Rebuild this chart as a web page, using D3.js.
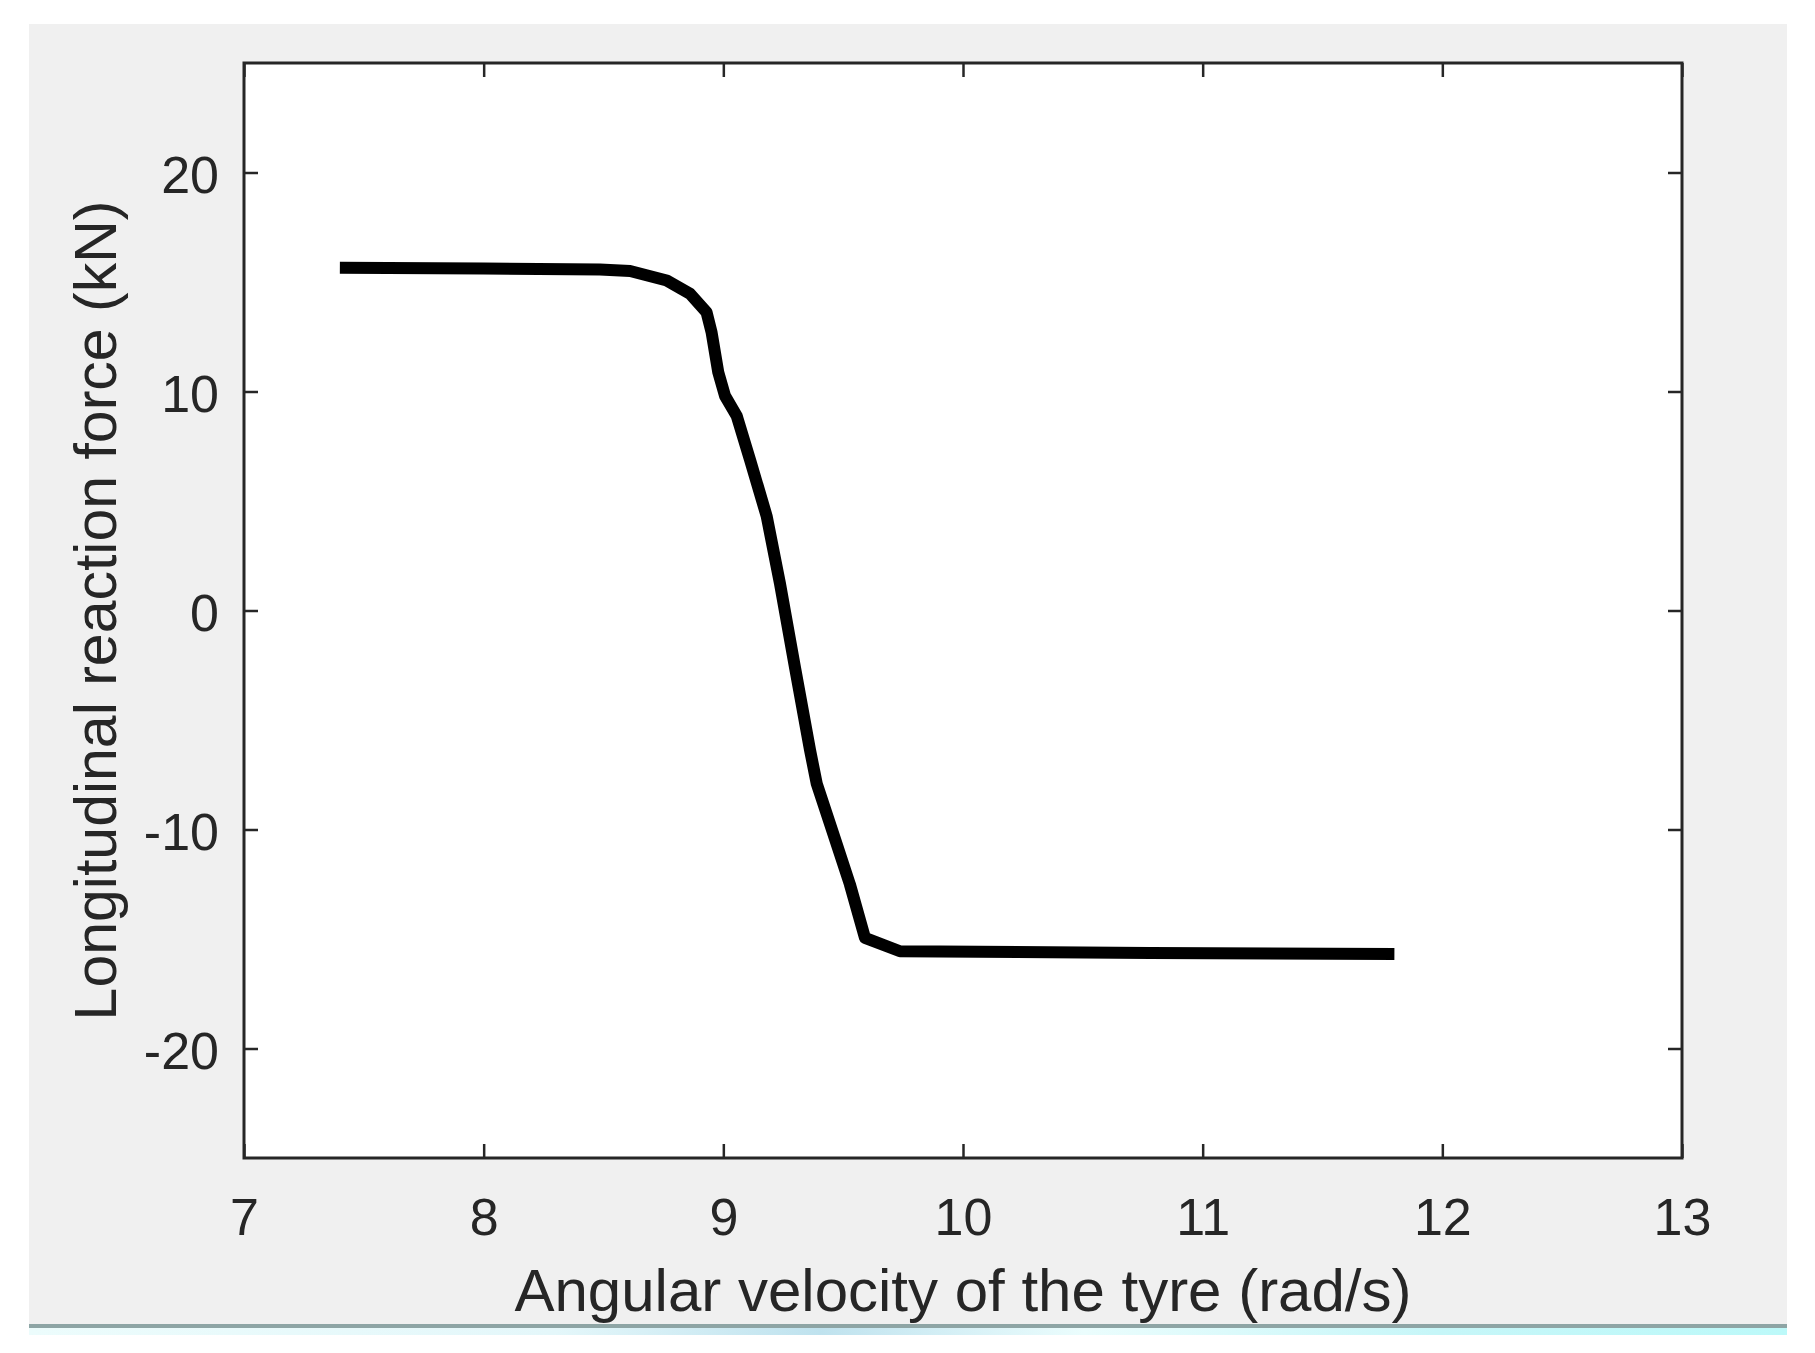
<!DOCTYPE html>
<html>
<head>
<meta charset="utf-8">
<script src="https://cdn.jsdelivr.net/npm/d3@7"></script>
<style>
  html, body { margin: 0; padding: 0; background: #ffffff; }
  svg { display: block; }
  text { font-family: "Liberation Sans", Arial, Helvetica, sans-serif; fill: #262626; }
</style>
</head>
<body>
<svg id="chart" width="1815" height="1353"></svg>
<script>
// ---- data ----
const omega = [7.4, 8.0, 8.485, 8.611, 8.764, 8.861, 8.93, 8.951, 8.979, 9.007, 9.056, 9.111, 9.181, 9.236, 9.299, 9.362, 9.39, 9.473, 9.528, 9.591, 9.737, 10.78, 11.8];
const force = [15.65, 15.62, 15.57, 15.5, 15.07, 14.46, 13.62, 12.70, 10.87, 9.80, 8.88, 6.90, 4.30, 1.25, -2.6, -6.39, -7.92, -10.67, -12.5, -14.95, -15.56, -15.64, -15.68];
const xTicks = [7, 8, 9, 10, 11, 12, 13];
const yTicks = [-20, -10, 0, 10, 20];
const xDomain = [7, 13];
const yDomain = [-25, 25];
const xLabel = "Angular velocity of the tyre (rad/s)";
const yLabel = "Longitudinal reaction force (kN)";

// ---- layout ----
const svg = d3.select("#chart");
const W = 1815, H = 1353;
const plot = { left: 244, right: 1682, top: 63, bottom: 1158 };
const axisColor = "#262626";
const fmt = d => String(d);

// figure background
svg.append("rect").attr("x", 0).attr("y", 0).attr("width", W).attr("height", H).attr("fill", "#ffffff");
svg.append("rect").attr("x", 29).attr("y", 24).attr("width", 1787 - 29).attr("height", 1324 - 24).attr("fill", "#f0f0f0");

// bottom window strip
const defs = svg.append("defs");
const grad = defs.append("linearGradient").attr("id", "strip").attr("x1", "0%").attr("x2", "100%");
grad.append("stop").attr("offset", "0%").attr("stop-color", "#ecfcfc");
grad.append("stop").attr("offset", "30%").attr("stop-color", "#e4f7fa");
grad.append("stop").attr("offset", "45%").attr("stop-color", "#bfe2ee");
grad.append("stop").attr("offset", "60%").attr("stop-color", "#ebfdfd");
grad.append("stop").attr("offset", "80%").attr("stop-color", "#c6f6f8");
grad.append("stop").attr("offset", "100%").attr("stop-color", "#bcf9f9");
svg.append("rect").attr("x", 29).attr("y", 1324).attr("width", 1787 - 29).attr("height", 4).attr("fill", "#8ea5a5");
svg.append("rect").attr("x", 29).attr("y", 1328).attr("width", 1787 - 29).attr("height", 7).attr("fill", "url(#strip)");

// plot area
svg.append("rect")
  .attr("x", plot.left).attr("y", plot.top)
  .attr("width", plot.right - plot.left).attr("height", plot.bottom - plot.top)
  .attr("fill", "#ffffff");

const x = d3.scaleLinear().domain(xDomain).range([plot.left, plot.right]);
const y = d3.scaleLinear().domain(yDomain).range([plot.bottom, plot.top]);

const tickLen = 14;
function styleAxis(g, showLabels) {
  g.select(".domain").remove();
  g.selectAll(".tick line").attr("stroke", axisColor).attr("stroke-width", 2.5);
  if (!showLabels) g.selectAll(".tick text").remove();
}

// bottom axis
const gB = svg.append("g").attr("transform", `translate(0,${plot.bottom})`)
  .call(d3.axisBottom(x).tickValues(xTicks).tickSize(-tickLen).tickFormat(fmt));
styleAxis(gB, true);
gB.selectAll(".tick text")
  .attr("y", 77).attr("dy", 0)
  .style("font-size", "52px")
  .style("font-family", "'Liberation Sans', Arial, sans-serif")
  .attr("fill", axisColor);

// top axis
const gT = svg.append("g").attr("transform", `translate(0,${plot.top})`)
  .call(d3.axisTop(x).tickValues(xTicks).tickSize(-tickLen));
styleAxis(gT, false);

// left axis
const gL = svg.append("g").attr("transform", `translate(${plot.left},0)`)
  .call(d3.axisLeft(y).tickValues(yTicks).tickSize(-tickLen).tickFormat(fmt));
styleAxis(gL, true);
gL.selectAll(".tick text")
  .attr("x", -25).attr("y", 20).attr("dy", 0)
  .style("font-size", "52px")
  .style("font-family", "'Liberation Sans', Arial, sans-serif")
  .attr("fill", axisColor);

// right axis
const gR = svg.append("g").attr("transform", `translate(${plot.right},0)`)
  .call(d3.axisRight(y).tickValues(yTicks).tickSize(-tickLen));
styleAxis(gR, false);

// data line
const pts = omega.map((v, i) => [v, force[i]]);
svg.append("path")
  .datum(pts)
  .attr("fill", "none")
  .attr("stroke", "#000000")
  .attr("stroke-width", 12)
  .attr("stroke-linejoin", "round")
  .attr("stroke-linecap", "butt")
  .attr("d", d3.line().x(d => x(d[0])).y(d => y(d[1])));

// box frame
svg.append("rect")
  .attr("x", plot.left).attr("y", plot.top)
  .attr("width", plot.right - plot.left).attr("height", plot.bottom - plot.top)
  .attr("fill", "none").attr("stroke", axisColor).attr("stroke-width", 3);

// axis labels
svg.append("text")
  .attr("x", (plot.left + plot.right) / 2).attr("y", 1311)
  .attr("text-anchor", "middle")
  .style("font-size", "60px")
  .text(xLabel);

svg.append("text")
  .attr("transform", `translate(116,${(plot.top + plot.bottom) / 2}) rotate(-90)`)
  .attr("text-anchor", "middle")
  .style("font-size", "59px")
  .text(yLabel);
</script>
</body>
</html>
